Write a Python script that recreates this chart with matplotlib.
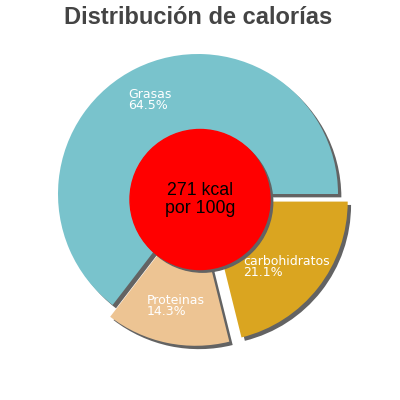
import matplotlib
matplotlib.use("Agg")
import matplotlib.pyplot as plt
from matplotlib.patches import Circle

title = "Distribución de calorías"
labels = ["Grasas", "Proteinas", "carbohidratos"]
values = [64.5, 14.3, 21.1]
colors = ["#79C3CC", "#EDC493", "#DAA520"]
explode = [0.0, 0.086, 0.088]
center_text = "271 kcal\npor 100g"

plt.rcParams['font.family'] = ['Liberation Sans', 'DejaVu Sans']

fig = plt.figure(figsize=(4, 4), dpi=100)
ax = fig.add_axes([0, 0, 1, 1])
R = 140.0  # px per data unit
cx, cy = 198.0, 194.0

def px(x, y):
    return ((x - cx) / R, (cy - y) / R)

sh = 0.024
# shadows
ax.pie(values, explode=explode, startangle=0, counterclock=True,
       colors=["#636363"] * 3, center=(sh, -sh), radius=1.0,
       wedgeprops=dict(linewidth=0))
# slices
ax.pie(values, explode=explode, startangle=0, counterclock=True,
       colors=colors, radius=1.0, wedgeprops=dict(linewidth=0))

ax.set_xlim(-cx / R, (400 - cx) / R)
ax.set_ylim(-(400 - cy) / R, cy / R)
ax.set_aspect('equal')
ax.axis('off')

# center circle
ccx, ccy = px(200, 199.5)
ax.add_patch(Circle((ccx + sh * 0.8, ccy - sh * 0.8), 0.5, color="#636363", zorder=5))
ax.add_patch(Circle((ccx, ccy), 0.5, color="#FF0000", zorder=6))
ax.text(ccx, ccy, center_text, ha='center', va='center', fontsize=12.8,
        color='black', linespacing=1.05, zorder=7)

# slice labels
label_pos = [(128, 100), (147, 306), (243, 267)]
for lab, v, (lx, ly) in zip(labels, values, label_pos):
    x, y = px(lx, ly)
    ax.text(x, y, f"{lab}\n{v}%", ha='left', va='center', fontsize=9,
            family=['DejaVu Sans'], color='white', linespacing=0.85, zorder=8)

fig.text(198 / 400, 1 - 17 / 400, title, ha='center', va='center',
         fontsize=17, fontweight='bold', color='#444444')

fig.savefig("out.png", dpi=100)
